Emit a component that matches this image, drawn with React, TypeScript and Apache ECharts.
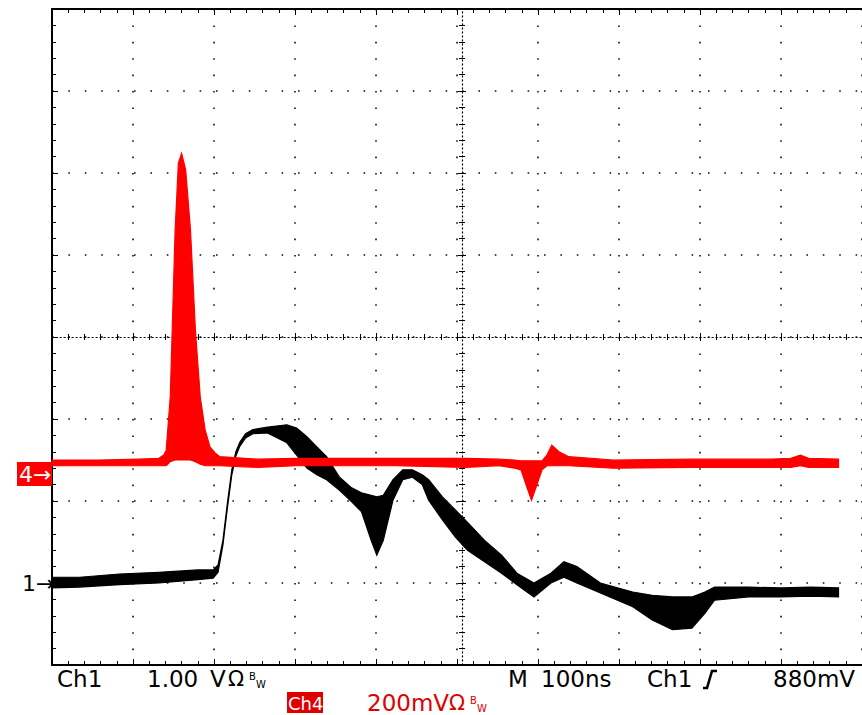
import React, { useEffect, useRef } from "react";
import * as echarts from "echarts";

// Time axis: ns (M 100ns/div, 10 divisions). Vertical: screen divisions (8 div, centre = 0)
const ch1Time = [0, 34, 83, 132, 180, 199, 205, 211, 217, 222, 227, 232, 239, 248, 266, 290, 302, 315, 327, 339, 355, 370, 382, 394, 401, 409, 421, 433, 445, 457, 465, 482, 498, 513, 534, 555, 574, 595, 616, 632, 648, 677, 717, 741, 766, 790, 806, 818, 860, 900, 937, 971];
const ch1Upper = [-2.93, -2.93, -2.89, -2.87, -2.84, -2.84, -2.78, -2.48, -1.99, -1.62, -1.40, -1.28, -1.18, -1.13, -1.10, -1.07, -1.11, -1.22, -1.34, -1.46, -1.71, -1.84, -1.90, -1.93, -1.95, -1.93, -1.74, -1.62, -1.62, -1.68, -1.74, -1.95, -2.11, -2.26, -2.48, -2.66, -2.88, -3.00, -2.88, -2.74, -2.80, -3.00, -3.11, -3.15, -3.17, -3.17, -3.11, -3.05, -3.05, -3.06, -3.05, -3.06];
const ch1Lower = [-3.06, -3.05, -3.02, -3.00, -2.96, -2.94, -2.87, -2.54, -2.05, -1.68, -1.45, -1.33, -1.23, -1.18, -1.17, -1.29, -1.44, -1.60, -1.68, -1.74, -1.87, -2.01, -2.13, -2.48, -2.66, -2.48, -1.99, -1.74, -1.71, -1.80, -1.99, -2.23, -2.44, -2.60, -2.74, -2.88, -3.02, -3.17, -3.00, -2.93, -3.00, -3.12, -3.29, -3.45, -3.57, -3.55, -3.37, -3.21, -3.17, -3.17, -3.16, -3.17];

const ch4Time = [0, 58, 107, 132, 138, 141, 146, 152, 156, 160, 165, 171, 177, 183, 189, 195, 201, 207, 254, 302, 424, 510, 552, 571, 579, 587, 592, 598, 605, 611, 617, 626, 638, 693, 790, 888, 912, 924, 934, 971];
const ch4Upper = [-1.50, -1.50, -1.49, -1.48, -1.44, -1.38, -0.73, 1.30, 2.12, 2.24, 2.04, 1.30, 0.09, -0.73, -1.13, -1.34, -1.41, -1.46, -1.49, -1.48, -1.48, -1.48, -1.49, -1.50, -1.51, -1.51, -1.51, -1.51, -1.51, -1.44, -1.32, -1.40, -1.46, -1.50, -1.49, -1.49, -1.48, -1.44, -1.48, -1.49];
const ch4Lower = [-1.57, -1.57, -1.57, -1.57, -1.57, -1.57, -1.52, -1.50, -1.50, -1.50, -1.50, -1.50, -1.52, -1.55, -1.57, -1.57, -1.57, -1.57, -1.59, -1.57, -1.57, -1.59, -1.57, -1.60, -1.62, -1.85, -1.99, -1.82, -1.62, -1.57, -1.57, -1.57, -1.57, -1.60, -1.59, -1.59, -1.59, -1.57, -1.59, -1.59];

const FONT = "'DejaVu Sans', sans-serif";

function bandSeries(time: number[], upper: number[], lower: number[], color: string, z: number) {
  return {
    type: "custom",
    z,
    data: [[time[0], upper[0]]],
    renderItem: (_params: any, api: any) => {
      const pts: number[][] = [];
      for (let i = 0; i < time.length; i++) pts.push(api.coord([time[i], upper[i]]));
      for (let i = time.length - 1; i >= 0; i--) pts.push(api.coord([time[i], lower[i]]));
      return {
        type: "polygon",
        shape: { points: pts },
        style: { fill: color, stroke: color, lineWidth: 1.2 },
      };
    },
  };
}

export default function App() {
  const ref = useRef<HTMLDivElement>(null);
  useEffect(() => {
    if (!ref.current) return;
    const chart = echarts.init(ref.current, null, { renderer: "svg" });
    const black = "#000";
    const red = "#ff0000";
    const dred = "#e00000";
    const baseX = { type: "value", min: 0, max: 1000, interval: 100, axisLabel: { show: false } };
    const baseY = { type: "value", min: -4, max: 4, interval: 1, axisLabel: { show: false } };
    const dotted = { type: [1.6, 14.8], color: "#111", width: 1.6 };
    const txt = (text: string, x: number, y: number, fill = black, size = 22, extra: any = {}) => ({
      type: "text",
      x,
      y,
      z: 100,
      style: { text, fill, font: `${size}px ${FONT}`, verticalAlign: "middle", ...extra },
    });
    const option: any = {
      animation: false,
      backgroundColor: "#fff",
      grid: { left: 52, top: 9, width: 820, height: 656, containLabel: false },
      xAxis: [
        {
          ...baseX,
          position: "bottom",
          axisLine: { onZero: false, lineStyle: { color: black, width: 2 } },
          axisTick: { inside: true, length: 6, lineStyle: { color: black } },
          minorTick: { show: true, splitNumber: 5, length: 4, lineStyle: { color: black } },
          splitLine: { show: true, lineStyle: dotted },
        },
        {
          ...baseX,
          position: "top",
          axisLine: { onZero: false, lineStyle: { color: black, width: 2 } },
          axisTick: { inside: true, length: 6, lineStyle: { color: black } },
          minorTick: { show: true, splitNumber: 5, length: 4, lineStyle: { color: black } },
          splitLine: { show: false },
        },
        {
          ...baseX,
          position: "bottom",
          axisLine: { onZero: true, lineStyle: { color: black, width: 1.2, type: [1.2, 2.8] } },
          axisTick: { inside: true, length: 4, lineStyle: { color: black } },
          minorTick: { show: true, splitNumber: 5, length: 3, lineStyle: { color: black } },
          splitLine: { show: false },
        },
        {
          ...baseX,
          position: "bottom",
          axisLine: { show: false, onZero: true },
          axisTick: { inside: false, length: 4, lineStyle: { color: black } },
          minorTick: { show: true, splitNumber: 5, length: 3, lineStyle: { color: black } },
          splitLine: { show: false },
        },
      ],
      yAxis: [
        {
          ...baseY,
          position: "left",
          axisLine: { onZero: false, lineStyle: { color: black, width: 2 } },
          axisTick: { inside: true, length: 6, lineStyle: { color: black } },
          minorTick: { show: true, splitNumber: 5, length: 4, lineStyle: { color: black } },
          splitLine: { show: true, lineStyle: dotted },
        },
        {
          ...baseY,
          position: "left",
          offset: -410,
          axisLine: { onZero: false, lineStyle: { color: black, width: 1.2, type: [1.2, 2.8] } },
          axisTick: { inside: true, length: 4, lineStyle: { color: black } },
          minorTick: { show: true, splitNumber: 5, length: 3, lineStyle: { color: black } },
          splitLine: { show: false },
        },
        {
          ...baseY,
          position: "left",
          offset: -410,
          axisLine: { show: false, onZero: false },
          axisTick: { inside: false, length: 4, lineStyle: { color: black } },
          minorTick: { show: true, splitNumber: 5, length: 3, lineStyle: { color: black } },
          splitLine: { show: false },
        },
      ],
      series: [
        bandSeries(ch1Time, ch1Upper, ch1Lower, black, 5),
        bandSeries(ch4Time, ch4Upper, ch4Lower, red, 6),
      ],
      graphic: [
        // channel markers
        { type: "rect", shape: { x: 17, y: 462, width: 35, height: 24 }, style: { fill: red }, z: 100 },
        txt("4\u2192", 19, 474, "#fff", 22),
        txt("1\u2192", 22, 583, black, 22),
        // readout line 1
        txt("Ch1", 57, 679, black, 23),
        txt("1.00", 147, 679, black, 23),
        txt("V", 210, 679, black, 23),
        txt("\u03a9", 228, 679, black, 21),
        txt("B", 249, 676, black, 10),
        txt("W", 256, 684, black, 10),
        txt("M", 508, 679, black, 23),
        txt("100ns", 541, 679, black, 23),
        txt("Ch1", 647, 679, black, 23),
        {
          type: "polyline",
          z: 100,
          shape: { points: [[703, 688], [707, 688], [712, 671], [717, 671]] },
          style: { stroke: black, lineWidth: 2.6, fill: null },
        },
        txt("880mV", 773, 679, black, 23),
        // readout line 2
        { type: "rect", shape: { x: 287, y: 692, width: 36, height: 21 }, style: { fill: dred }, z: 100 },
        txt("Ch4", 288, 703, "#fff", 18),
        txt("200mV", 367, 703, dred, 23),
        txt("\u03a9", 449, 703, dred, 21),
        txt("B", 470, 700, dred, 10),
        txt("W", 477, 708, dred, 10),
      ],
    };
    chart.setOption(option);
    return () => chart.dispose();
  }, []);
  return (
    <div
      ref={ref}
      style={{ position: "fixed", left: 0, top: 0, width: 862, height: 715, background: "#fff" }}
    />
  );
}
